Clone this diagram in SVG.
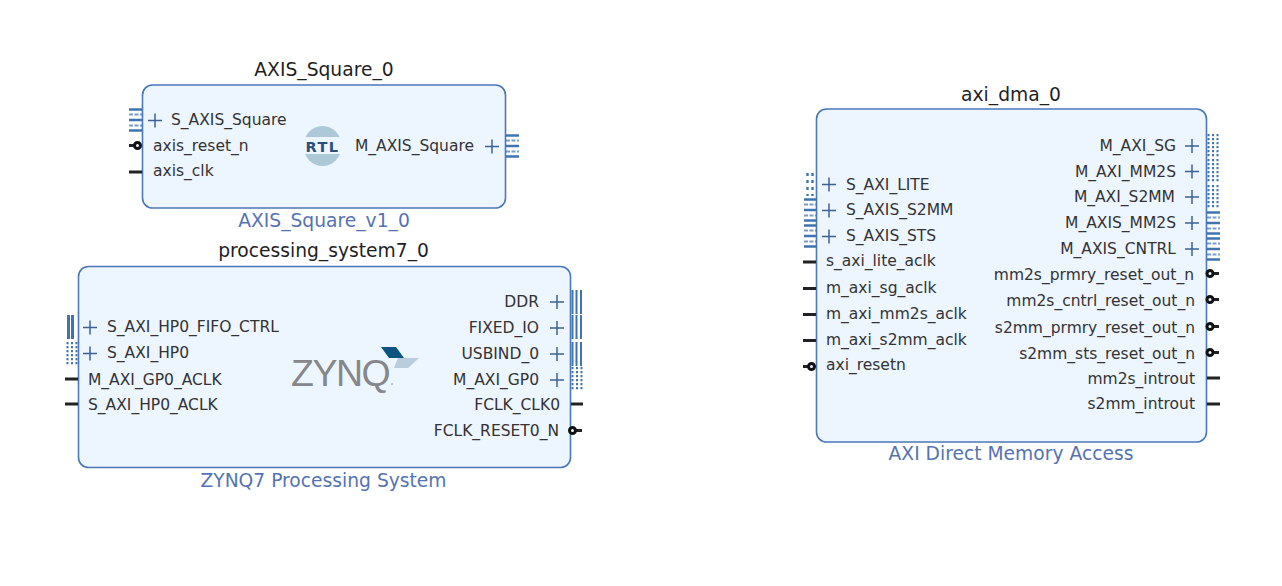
<svg xmlns="http://www.w3.org/2000/svg" width="1282" height="586" viewBox="0 0 1282 586">
<style>
text{font-family:"DejaVu Sans",sans-serif;fill:#333;transform:translateY(.6px)}
.p{font-size:15.500px}
.t{font-size:18.700px;fill:#1f1f1f;text-anchor:middle}
.s{font-size:18.700px;fill:#5573b3;text-anchor:middle}
.e{text-anchor:end}
.b{fill:#edf5fe;stroke:#4a78b8;stroke-width:1.600}
.plus{stroke:#3d6296;stroke-width:1.500;fill:none}
.w{stroke:#222;stroke-width:3;fill:none}
.n{stroke:#111;stroke-width:3;fill:#edf5fe}
.bus{stroke:#3f74ae;fill:none}
</style>
<defs>
<g id="plus"><path class="plus" d="M-7 0H7M0-7V7"/></g>
<g id="axis"><path class="bus" stroke-width="2.600" d="M0 1.500H13M0 12H13M0 22.500H13"/><path class="bus" stroke-width="2" stroke-dasharray="4 1.500" d="M0 6.500H13M0 17.500H13" opacity=".7"/></g>
<g id="bars"><path class="bus" stroke-width="2" d="M1.500 0V24M5.500 0V24M10 0V24"/></g>
<g id="bars2"><path class="bus" stroke-width="3" d="M3.500 0V24M7.500 0V24"/></g>
<g id="dots"><path class="bus" stroke-width="2" stroke-dasharray="2.200 1.800" d="M1.500 0V24M6 0V24M10.500 0V24"/></g>
<g id="dots2"><path class="bus" stroke-width="2.400" stroke-dasharray="3 4" d="M3.500 1V24M8.500 1V24"/></g>
</defs>
<g id="connectors"></g>

<g id="AXIS_Square_0">
<text class="t" x="324" y="75">AXIS_Square_0</text>
<rect class="b" x="142.500" y="85" width="363" height="123" rx="10"/>
<use href="#axis" x="129" y="108"/>
<use href="#plus" x="155" y="120.500"/>
<path class="w" d="M129 172H142"/>
<path class="w" d="M129 145.500H134"/><circle class="n" cx="137.500" cy="145.500" r="3"/>
<text class="p" x="171" y="124">S_AXIS_Square</text>
<text class="p" x="153" y="150">axis_reset_n</text>
<text class="p" x="153" y="175">axis_clk</text>
<ellipse cx="322.500" cy="146" rx="19" ry="20" fill="#adc9d8"/>
<rect x="303" y="137" width="39" height="17" fill="#edf5fe"/>
<text x="322.500" y="151.500" text-anchor="middle" style="font-family:'DejaVu Sans',sans-serif;font-weight:bold;font-size:14.500px;letter-spacing:1.500px;fill:#2a4f7f">RTL</text>
<text class="p e" x="474" y="150">M_AXIS_Square</text>
<use href="#plus" x="492" y="146.500"/>
<use href="#axis" x="506" y="134"/>
<text class="s" x="324" y="226">AXIS_Square_v1_0</text>
</g>

<g id="processing_system7_0">
<text class="t" x="323.500" y="256">processing_system7_0</text>
<rect class="b" x="78.500" y="266.500" width="492" height="201" rx="10"/>
<use href="#bars2" x="65" y="315"/>
<use href="#dots" x="66" y="342"/>
<use href="#plus" x="90" y="327.500"/>
<use href="#plus" x="90" y="353.500"/>
<path class="w" d="M65 379H78M65 404H78"/>
<text class="p" x="107" y="331">S_AXI_HP0_FIFO_CTRL</text>
<text class="p" x="107" y="357">S_AXI_HP0</text>
<text class="p" x="88" y="384">M_AXI_GP0_ACLK</text>
<text class="p" x="88" y="409">S_AXI_HP0_ACLK</text>
<text x="291" y="385" style="font-family:'Liberation Sans',sans-serif;font-size:37.500px;fill:#85878a;letter-spacing:-1.500px">ZYNQ</text>
<circle cx="392" cy="384" r=".8" fill="#85878a"/>
<path fill="#0d5580" d="M381 347H396L404 358H389Z"/>
<path fill="#b9cddd" d="M398 358H419L408 368H396L394 368Z"/>
<text class="p e" x="539" y="306">DDR</text>
<text class="p e" x="539" y="332">FIXED_IO</text>
<text class="p e" x="539" y="358">USBIND_0</text>
<text class="p e" x="539" y="384">M_AXI_GP0</text>
<text class="p e" x="560" y="409">FCLK_CLK0</text>
<text class="p e" x="559" y="435">FCLK_RESET0_N</text>
<use href="#plus" x="557" y="302"/>
<use href="#plus" x="557" y="328"/>
<use href="#plus" x="557" y="354"/>
<use href="#plus" x="557" y="380"/>
<use href="#bars" x="571" y="290"/>
<use href="#bars" x="571" y="315"/>
<use href="#bars" x="571" y="342"/>
<use href="#dots" x="571" y="367"/>
<path class="w" d="M571 404H583M576 430.500H582"/>
<circle class="n" cx="572.500" cy="430.500" r="3"/>
<text class="s" x="323.500" y="486">ZYNQ7 Processing System</text>
</g>

<g id="axi_dma_0">
<text class="t" x="1011" y="100">axi_dma_0</text>
<rect class="b" x="816.500" y="109" width="390" height="333" rx="10"/>
<use href="#dots2" x="804" y="172"/>
<use href="#axis" x="804" y="198"/>
<use href="#axis" x="804" y="224"/>
<use href="#plus" x="829" y="184.500"/>
<use href="#plus" x="829" y="210.500"/>
<use href="#plus" x="829" y="236.500"/>
<text class="p" x="846" y="189">S_AXI_LITE</text>
<text class="p" x="846" y="214">S_AXIS_S2MM</text>
<text class="p" x="846" y="240">S_AXIS_STS</text>
<text class="p" x="826" y="265">s_axi_lite_aclk</text>
<text class="p" x="826" y="292">m_axi_sg_aclk</text>
<text class="p" x="826" y="318">m_axi_mm2s_aclk</text>
<text class="p" x="826" y="344">m_axi_s2mm_aclk</text>
<text class="p" x="826" y="369">axi_resetn</text>
<path class="w" d="M803 262H816M803 288.500H816M803 314.500H816M803 340.500H816M803 366.500H808"/>
<circle class="n" cx="811.500" cy="366.500" r="3"/>
<text class="p e" x="1176" y="150">M_AXI_SG</text>
<text class="p e" x="1176" y="176">M_AXI_MM2S</text>
<text class="p e" x="1175" y="201">M_AXI_S2MM</text>
<text class="p e" x="1176" y="227">M_AXIS_MM2S</text>
<text class="p e" x="1176" y="253">M_AXIS_CNTRL</text>
<text class="p e" x="1194" y="279">mm2s_prmry_reset_out_n</text>
<text class="p e" x="1195" y="305">mm2s_cntrl_reset_out_n</text>
<text class="p e" x="1195" y="332">s2mm_prmry_reset_out_n</text>
<text class="p e" x="1195" y="358">s2mm_sts_reset_out_n</text>
<text class="p e" x="1195" y="383">mm2s_introut</text>
<text class="p e" x="1195" y="408">s2mm_introut</text>
<use href="#plus" x="1192" y="146"/>
<use href="#plus" x="1192" y="171.500"/>
<use href="#plus" x="1192" y="197"/>
<use href="#plus" x="1192" y="223"/>
<use href="#plus" x="1192" y="249"/>
<use href="#dots" x="1207" y="134"/>
<use href="#dots" x="1207" y="159"/>
<use href="#dots" x="1207" y="185"/>
<use href="#axis" x="1207" y="211"/>
<use href="#axis" x="1207" y="237"/>
<path class="w" d="M1214 273.500H1219M1214 299.500H1219M1214 326.500H1219M1214 352.500H1219M1207 378H1220M1207 404H1220"/>
<circle class="n" cx="1210" cy="273.500" r="3"/>
<circle class="n" cx="1210" cy="299.500" r="3"/>
<circle class="n" cx="1210" cy="326.500" r="3"/>
<circle class="n" cx="1210" cy="352.500" r="3"/>
<text class="s" x="1011" y="459">AXI Direct Memory Access</text>
</g>
</svg>
